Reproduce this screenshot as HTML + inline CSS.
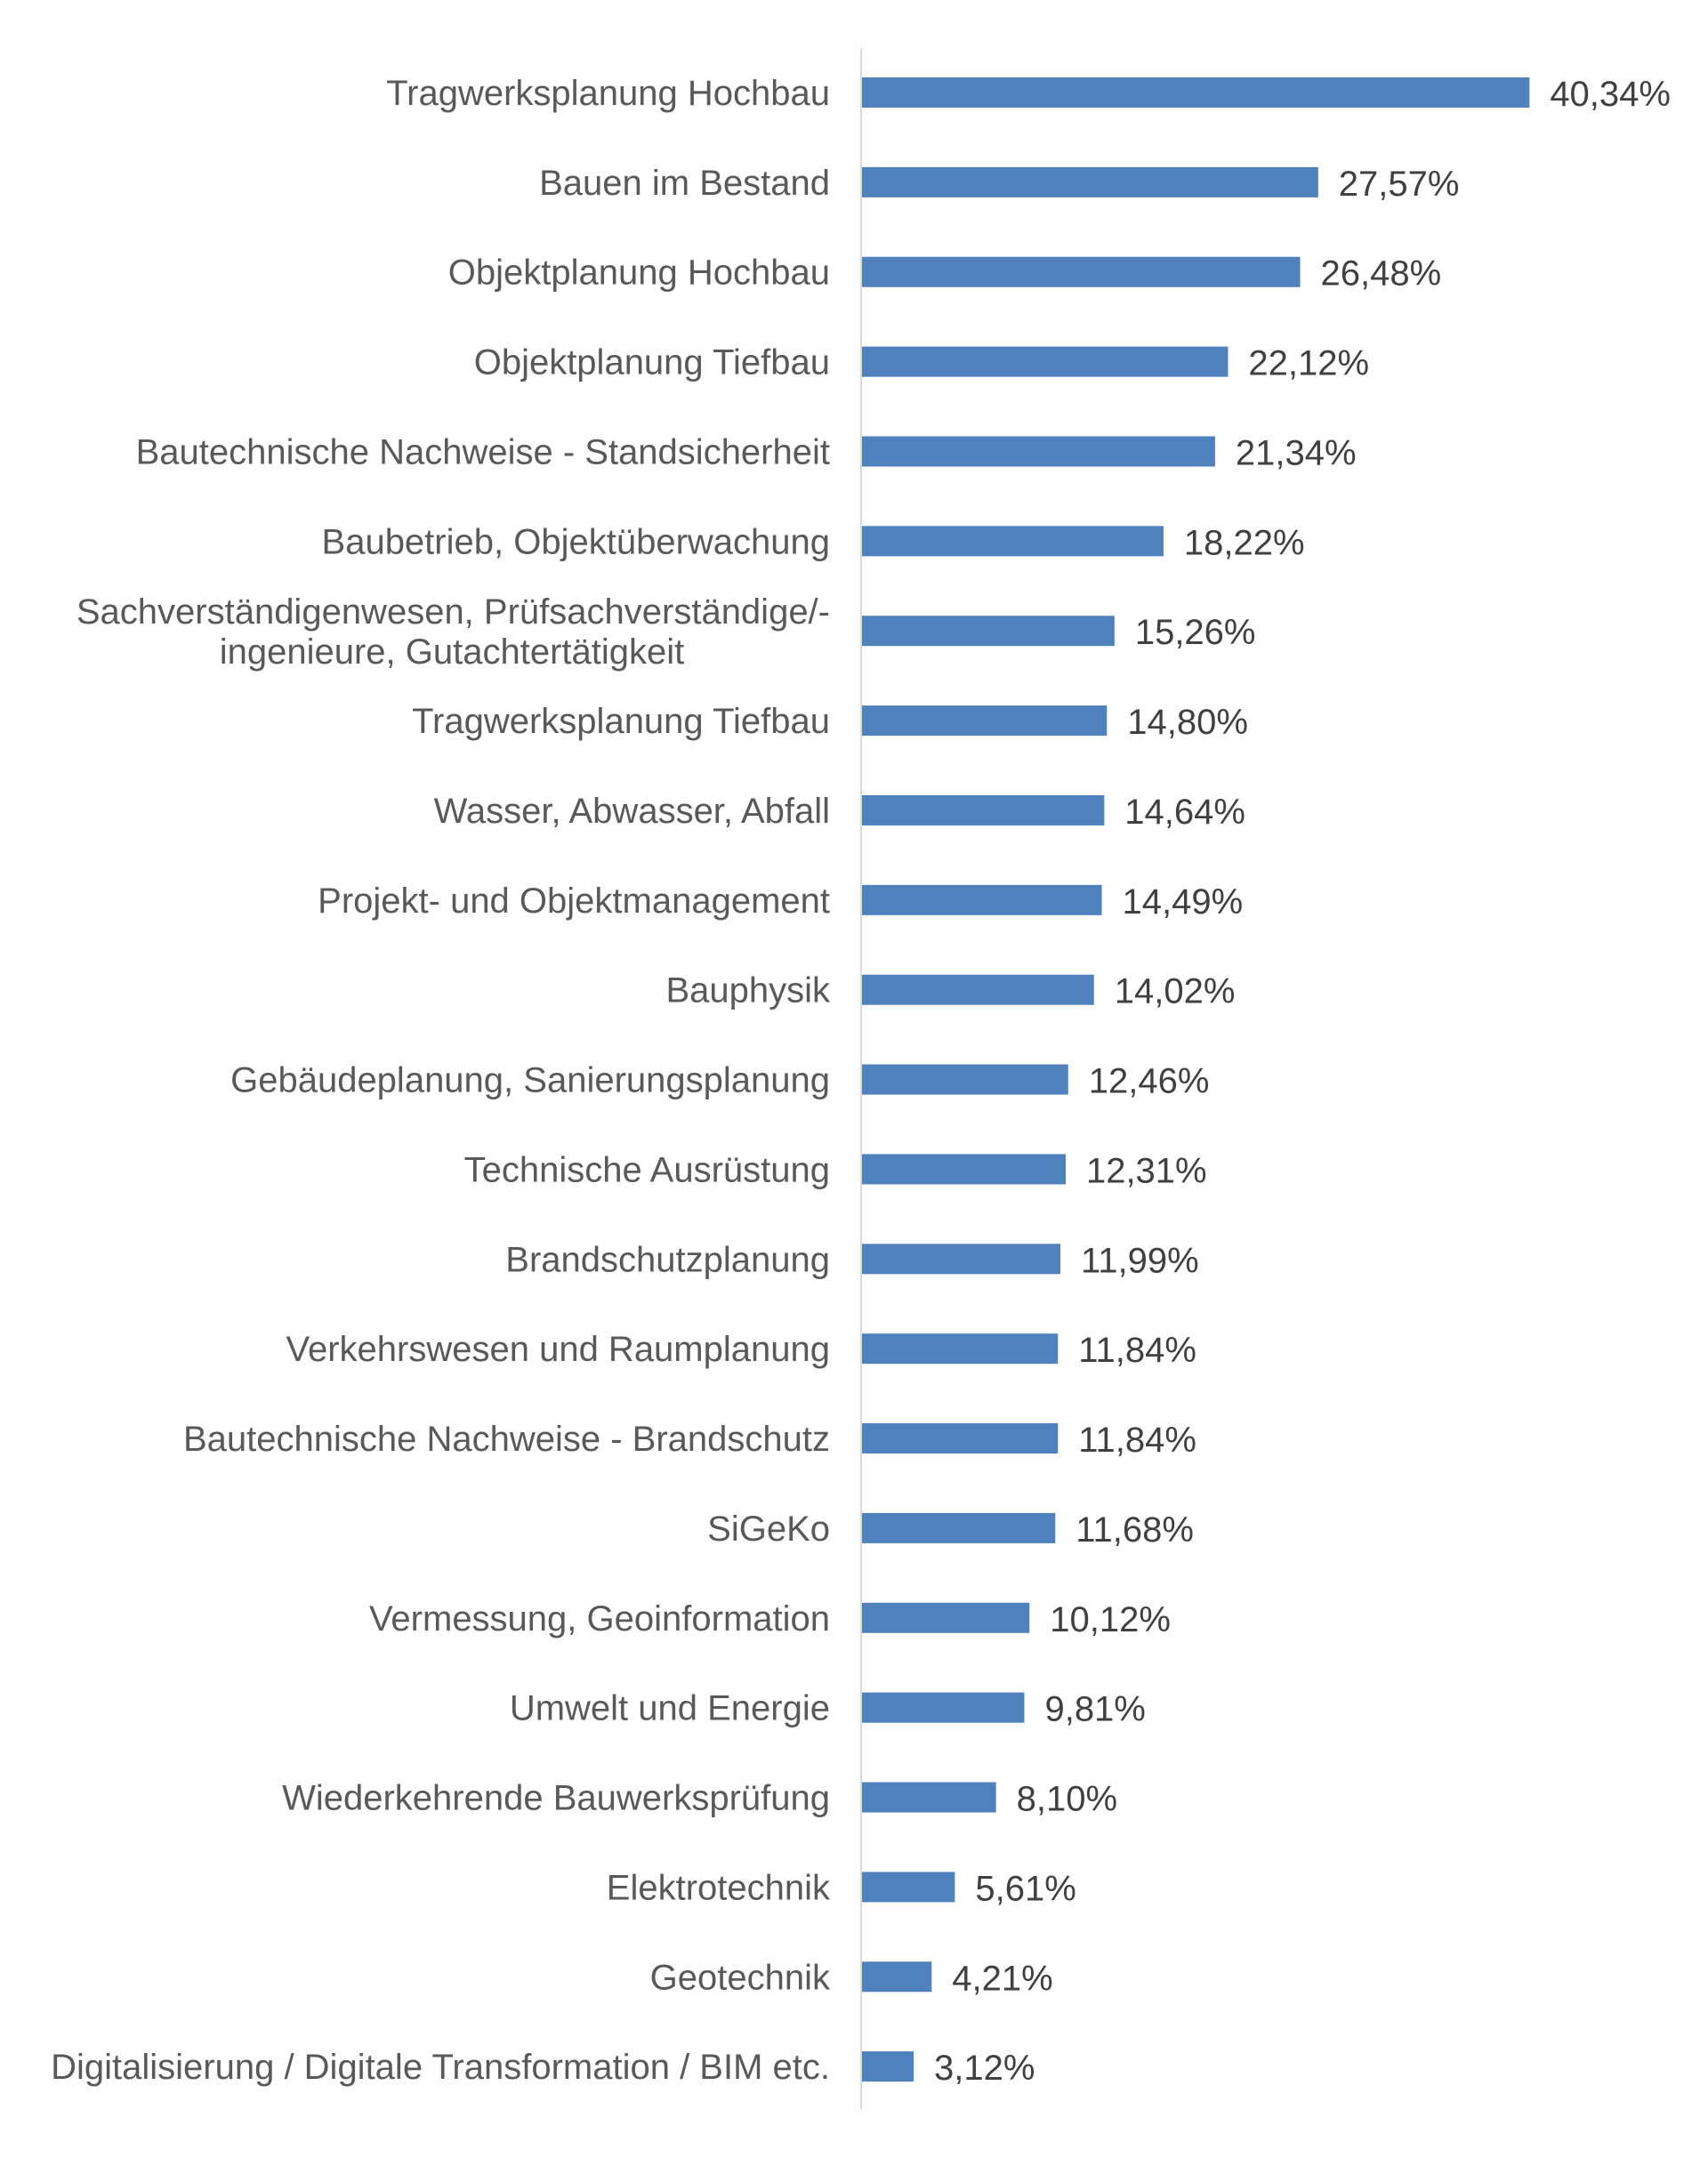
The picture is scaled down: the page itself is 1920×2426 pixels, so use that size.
<!DOCTYPE html>
<html><head><meta charset="utf-8"><style>
body{margin:0;background:#fff;}
svg text{font-family:"Liberation Sans",Arial,sans-serif;font-size:40px;}
</style></head><body>
<svg width="1920" height="2421" xmlns="http://www.w3.org/2000/svg">
<rect width="1920" height="2421" fill="#fff"/>
<line x1="968" y1="54" x2="968" y2="2371" stroke="#d9d9d9" stroke-width="2"/>
<g id="g"></g>
</svg>
<script>
const d=[["Tragwerksplanung Hochbau",40.34],["Bauen im Bestand",27.57],["Objektplanung Hochbau",26.48],["Objektplanung Tiefbau",22.12],["Bautechnische Nachweise - Standsicherheit",21.34],["Baubetrieb, Objektüberwachung",18.22],["Sachverständigenwesen, Prüfsachverständige/-|ingenieure, Gutachtertätigkeit",15.26],["Tragwerksplanung Tiefbau",14.80],["Wasser, Abwasser, Abfall",14.64],["Projekt- und Objektmanagement",14.49],["Bauphysik",14.02],["Gebäudeplanung, Sanierungsplanung",12.46],["Technische Ausrüstung",12.31],["Brandschutzplanung",11.99],["Verkehrswesen und Raumplanung",11.84],["Bautechnische Nachweise - Brandschutz",11.84],["SiGeKo",11.68],["Vermessung, Geoinformation",10.12],["Umwelt und Energie",9.81],["Wiederkehrende Bauwerksprüfung",8.10],["Elektrotechnik",5.61],["Geotechnik",4.21],["Digitalisierung / Digitale Transformation / BIM etc.",3.12]];
let s="";
d.forEach((r,i)=>{
 const cy=104+i*100.87, w=r[1]*18.6;
 s+=`<rect x="969" y="${cy-17}" width="${w}" height="34" fill="#4f81bd"/>`;
 const parts=r[0].split("|");
 if(parts.length==1) s+=`<text x="933" y="${cy+14}" text-anchor="end" fill="#595959">${parts[0]}</text>`;
 else{
  s+=`<text x="933" y="${cy-8}" text-anchor="end" fill="#595959">${parts[0]}</text>`;
  s+=`<text x="508" y="${cy+37}" text-anchor="middle" fill="#595959">${parts[1]}</text>`;
 }
 s+=`<text x="${969+w+23}" y="${cy+15}" fill="#404040">${r[1].toFixed(2).replace(".",",")}%</text>`;
});
document.getElementById("g").innerHTML=s;
</script>
</body></html>
